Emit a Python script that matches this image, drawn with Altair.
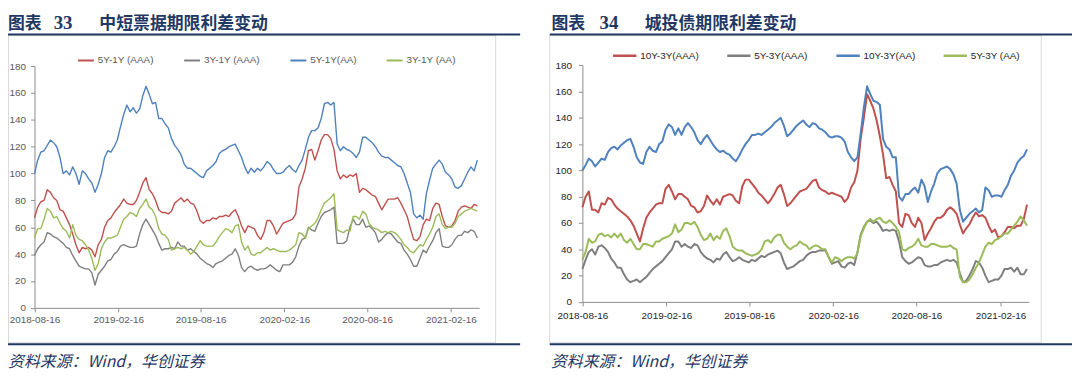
import altair as alt
import pandas as pd

# ---------------- data ----------------
DATES = pd.date_range("2018-08-16", periods=140, freq="7D")

L_NAMES = ["5Y-1Y (AAA)", "3Y-1Y (AAA)", "5Y-1Y(AA)", "3Y-1Y (AA)"]
R_NAMES = ["10Y-3Y(AAA)", "5Y-3Y(AAA)", "10Y-3Y(AA)", "5Y-3Y (AA)"]
COLORS = ["#C0504D", "#7F7F7F", "#4F81BD", "#9BBB59"]

L_RED = [67, 75, 79, 80, 88, 86, 82, 80, 73, 72,
         67, 62, 55, 47, 41, 45, 44, 45, 43, 38,
         47, 51, 60, 65, 67, 71, 74, 77, 81, 78,
         77, 77, 80, 86, 93, 97, 88, 85, 80, 73,
         71, 71, 70, 72, 78, 80, 82, 79, 81, 78,
         77, 72, 65, 63, 65, 65, 67, 66, 68, 68,
         69, 68, 71, 73, 68, 61, 56, 61, 60, 59,
         54, 51, 56, 65, 65, 61, 55, 59, 63, 64,
         65, 66, 70, 90, 96, 104, 117, 118, 110, 117,
         125, 129, 129, 126, 118, 102, 96, 99, 97, 99,
         98, 100, 86, 89, 88, 86, 84, 83, 78, 73,
         77, 81, 81, 81, 82, 78, 73, 68, 59, 51,
         50, 53, 62, 66, 65, 74, 78, 77, 68, 61,
         60, 61, 65, 72, 75, 76, 75, 74, 77, 76]
L_GRAY = [39, 44, 47, 49, 56, 55, 53, 52, 50, 48,
          45, 44, 39, 35, 31, 30, 29, 29, 26, 17,
          25, 28, 31, 35, 36, 40, 42, 46, 47, 46,
          45, 45, 46, 55, 62, 66, 62, 58, 54, 48,
          43, 44, 44, 45, 44, 49, 46, 46, 43, 44,
          42, 40, 37, 35, 33, 32, 30, 33, 34, 35,
          37, 39, 40, 44, 39, 30, 27, 30, 31, 29,
          28, 29, 29, 30, 32, 30, 28, 27, 32, 32,
          32, 34, 38, 46, 51, 52, 60, 58, 57, 63,
          68, 71, 72, 73, 75, 48, 48, 48, 50, 60,
          66, 62, 62, 66, 60, 61, 59, 56, 49, 51,
          54, 56, 55, 52, 49, 48, 43, 40, 36, 31,
          31, 37, 43, 41, 46, 50, 56, 59, 46, 45,
          45, 47, 51, 54, 54, 57, 56, 58, 57, 52]
L_BLUE = [100, 110, 116, 117, 121, 125, 123, 120, 112, 100,
          102, 99, 105, 100, 92, 102, 100, 96, 93, 86,
          92, 100, 112, 117, 116, 120, 125, 135, 144, 151,
          146, 149, 145, 148, 158, 165, 159, 152, 153, 141,
          141, 137, 134, 126, 121, 118, 114, 107, 104, 104,
          102, 100, 98, 97, 102, 104, 106, 109, 115, 117,
          118, 120, 121, 122, 117, 112, 105, 100, 104, 101,
          104, 102, 105, 109, 107, 103, 100, 100, 101, 104,
          106, 103, 101, 106, 110, 118, 127, 132, 132, 134,
          141, 152, 153, 151, 153, 122, 117, 120, 118, 117,
          115, 112, 116, 127, 127, 125, 123, 120, 116, 113,
          112, 112, 110, 108, 106, 105, 100, 93, 86, 70,
          67, 69, 66, 85, 95, 104, 107, 110, 107, 101,
          99, 96, 90, 89, 91, 96, 101, 105, 102, 110]
L_GREEN = [52, 59, 59, 66, 74, 72, 67, 68, 63, 59,
           57, 52, 62, 54, 51, 50, 47, 43, 37, 28,
           33, 44, 49, 52, 52, 53, 54, 60, 66, 68,
           71, 70, 68, 74, 77, 81, 75, 73, 68, 59,
           55, 54, 51, 43, 44, 45, 44, 45, 43, 40,
           42, 46, 50, 47, 46, 46, 46, 49, 53, 56,
           59, 58, 56, 61, 62, 49, 43, 46, 40, 39,
           41, 41, 43, 45, 43, 44, 43, 42, 42, 42,
           43, 45, 47, 56, 55, 52, 59, 61, 63, 67,
           73, 78, 80, 82, 85, 58, 57, 56, 58, 57,
           68, 68, 66, 72, 70, 63, 60, 59, 58, 56,
           57, 56, 57, 56, 54, 51, 47, 45, 42, 41,
           44, 47, 46, 51, 55, 60, 68, 70, 62, 59,
           60, 60, 63, 68, 70, 72, 73, 74, 73, 72]

R_RED = [72, 80, 84, 70, 70, 68, 75, 74, 79, 78,
         74, 71, 69, 67, 65, 62, 58, 52, 46, 56,
         64, 68, 71, 74, 75, 75, 86, 89, 84, 78,
         82, 82, 80, 78, 73, 72, 68, 69, 73, 81,
         77, 74, 78, 74, 80, 81, 82, 81, 77, 75,
         88, 93, 93, 90, 87, 83, 81, 78, 75, 78,
         82, 87, 89, 82, 73, 75, 78, 81, 84, 85,
         86, 89, 92, 93, 87, 85, 84, 82, 83, 82,
         81, 80, 76, 79, 87, 91, 100, 124, 140, 158,
         153, 147, 138, 126, 112, 94, 95, 89, 84, 60,
         57, 67, 66, 60, 57, 64, 60, 47, 52, 56,
         61, 64, 64, 66, 70, 72, 70, 67, 59, 52,
         56, 59, 64, 68, 65, 66, 64, 58, 53, 55,
         49, 50, 53, 57, 57, 56, 58, 58, 63, 74]
R_GRAY = [25, 32, 38, 40, 36, 42, 43, 41, 38, 33,
          30, 26, 26, 21, 17, 15, 16, 17, 15, 17,
          19, 22, 25, 27, 29, 31, 34, 37, 40, 46,
          46, 42, 44, 42, 41, 44, 43, 38, 35, 33,
          32, 30, 33, 32, 36, 38, 34, 31, 32, 34,
          32, 31, 30, 32, 31, 33, 35, 34, 36, 37,
          38, 39, 37, 30, 25, 26, 27, 29, 31, 32,
          35, 37, 38, 38, 39, 39, 39, 34, 29, 30,
          31, 27, 26, 29, 30, 28, 38, 51, 57, 61,
          62, 60, 61, 58, 54, 55, 54, 55, 54, 46,
          34, 31, 29, 30, 32, 34, 33, 28, 27, 27,
          28, 28, 30, 31, 32, 31, 32, 30, 22, 15,
          16, 20, 25, 31, 30, 26, 20, 15, 16, 17,
          17, 20, 25, 25, 26, 23, 26, 21, 21, 25]
R_BLUE = [100, 104, 109, 107, 103, 106, 109, 108, 114, 117,
          118, 116, 119, 121, 123, 124, 118, 110, 106, 105,
          114, 118, 115, 114, 120, 122, 131, 135, 133, 127,
          132, 127, 133, 136, 133, 129, 123, 120, 124, 127,
          123, 119, 116, 114, 115, 113, 112, 109, 107, 111,
          116, 120, 123, 127, 127, 128, 127, 129, 131, 133,
          136, 138, 140, 134, 126, 128, 131, 134, 136, 138,
          135, 133, 136, 135, 132, 131, 129, 126, 125, 126,
          126, 125, 122, 114, 110, 107, 110, 128, 148, 164,
          158, 153, 152, 150, 124, 118, 116, 110, 110, 80,
          77, 82, 82, 85, 87, 83, 93, 88, 76, 84,
          90, 98, 101, 102, 103, 101, 97, 90, 70, 61,
          64, 67, 69, 71, 68, 70, 87, 85, 80, 81,
          81, 80, 85, 89, 96, 100, 106, 109, 111, 116]
R_GREEN = [32, 38, 48, 45, 46, 51, 52, 50, 51, 49,
           52, 49, 52, 47, 45, 48, 44, 40, 40, 44,
           44, 43, 42, 46, 46, 48, 49, 50, 52, 59,
           53, 55, 60, 60, 59, 61, 57, 51, 47, 48,
           52, 47, 50, 48, 54, 56, 50, 42, 40, 39,
           39, 37, 36, 35, 36, 37, 40, 46, 47, 45,
           49, 51, 51, 45, 42, 40, 42, 43, 46, 44,
           43, 40, 42, 43, 42, 40, 40, 34, 30, 34,
           33, 31, 33, 34, 34, 33, 37, 50, 56, 61,
           63, 61, 63, 64, 61, 60, 62, 60, 57, 53,
           40, 39, 41, 42, 44, 48, 43, 42, 42, 44,
           44, 43, 42, 42, 42, 43, 41, 40, 19, 15,
           15, 17, 21, 26, 30, 36, 42, 45, 44, 47,
           48, 50, 52, 52, 55, 58, 61, 65, 62, 58]

Y_TICKS = [0, 20, 40, 60, 80, 100, 120, 140, 160, 180]
X_TICKS = [(2018, 8), (2019, 2), (2019, 8), (2020, 2), (2020, 8), (2021, 2)]

# ---------------- helpers ----------------
W, H = 1072, 370
M = 8  # page margin: chart coords = image coords - 8
NAVY = "#1F3864"
AXIS_GRAY = "#8C8C8C"


def long_df(names, series):
    rows = []
    for name, vals in zip(names, series):
        for d, v in zip(DATES, vals):
            rows.append({"date": d, "value": v, "series": name})
    return pd.DataFrame(rows)


start = alt.DateTime(year=2018, month=8, date=16)
end = alt.DateTime(year=2021, month=4, date=19)
ticks = [alt.DateTime(year=y, month=m, date=16) for y, m in X_TICKS]


def panel(names, series, xr, yr, stroke_w, label_color, legend_x, legend_y,
          sym_size, sym_w, col_pad, label_off, xlab_pad, ylab_pad):
    df = long_df(names, series)
    return alt.Chart(df).mark_line(strokeWidth=stroke_w, strokeJoin="round").encode(
        x=alt.X("date:T",
                scale=alt.Scale(domain=[start, end], range=xr, nice=False),
                axis=alt.Axis(orient="bottom", offset=-(H - yr[0]), values=ticks,
                              format="%Y-%m-%d", title=None, grid=False,
                              labelFont="Liberation Sans", labelFontSize=10,
                              labelColor=label_color, labelOverlap=False,
                              labelFlush=False, labelAngle=0,
                              tickColor=AXIS_GRAY, domainColor=AXIS_GRAY,
                              tickSize=4, labelPadding=xlab_pad)),
        y=alt.Y("value:Q",
                scale=alt.Scale(domain=[0, 180], range=yr, nice=False, zero=False),
                axis=alt.Axis(orient="left", offset=-xr[0], values=Y_TICKS,
                              title=None, grid=False,
                              labelFont="Liberation Sans", labelFontSize=10,
                              labelColor=label_color,
                              tickColor=AXIS_GRAY, domainColor=AXIS_GRAY,
                              tickSize=4, labelPadding=ylab_pad)),
        color=alt.Color("series:N",
                        scale=alt.Scale(domain=names, range=COLORS),
                        sort=names,
                        legend=alt.Legend(orient="none", legendX=legend_x, legendY=legend_y,
                                          direction="horizontal", title=None,
                                          symbolType="stroke", symbolSize=sym_size,
                                          symbolStrokeWidth=sym_w,
                                          labelFont="Liberation Sans", labelFontSize=10,
                                          labelColor=label_color, labelOffset=label_off,
                                          columnPadding=col_pad, padding=0)),
    )


one = pd.DataFrame({"k": [0]})


def text(txt, x, y, size, weight="normal", style="normal",
         font="Noto Sans CJK SC", color=NAVY, baseline="middle"):
    return alt.Chart(pd.DataFrame({"t": [txt]})).mark_text(
        align="left", baseline=baseline, font=font, fontSize=size,
        fontWeight=weight, fontStyle=style, color=color
    ).encode(x=alt.value(x), y=alt.value(y), text="t:N")


def hrule(x1, x2, y, color=NAVY, w=2):
    return alt.Chart(one).mark_rule(color=color, strokeWidth=w).encode(
        x=alt.value(x1), x2=alt.value(x2), y=alt.value(y))


def frame(x1, x2, y1, y2):
    return alt.Chart(one).mark_rect(filled=False, stroke="#D9D9D9", strokeWidth=1).encode(
        x=alt.value(x1), x2=alt.value(x2), y=alt.value(y1), y2=alt.value(y2))


# ---------------- panels ----------------
left = panel(L_NAMES, [L_RED, L_GRAY, L_BLUE, L_GREEN],
             xr=[34.7 - M, 482.7 - M], yr=[308.7 - M, 65.2 - M],
             stroke_w=1.4, label_color="#595959",
             legend_x=77.5 - M, legend_y=58.5 - M - 8,
             sym_size=256, sym_w=2, col_pad=26, label_off=3,
             xlab_pad=3, ylab_pad=5)

right = panel(R_NAMES, [R_RED, R_GRAY, R_BLUE, R_GREEN],
              xr=[586.7 - M, 1036.5 - M], yr=[302.7 - M, 64.3 - M],
              stroke_w=2, label_color="#262626",
              legend_x=616.4 - M, legend_y=53.4 - M - 11.7,
              sym_size=552, sym_w=2.5, col_pad=23, label_off=2.5,
              xlab_pad=5, ylab_pad=7)

decor = [
    frame(0.5, 499.3 - M, 34.5 - M, 343.8 - M),
    frame(553.8 - M, 1049 - M, 34.5 - M, 343.8 - M),
    hrule(0, 524 - M, 33.2 - M),
    hrule(0, 524 - M, 345.5 - M),
    hrule(553.8 - M, W, 33.2 - M),
    hrule(553.8 - M, W, 345.5 - M),
]

TY = 19.5  # alphabetic baseline of the headings
titles = [
    text("图表", 0, TY, 17, weight="bold", baseline="alphabetic"),
    text("33", 46, TY, 19, weight="bold", font="Liberation Serif", baseline="alphabetic"),
    text("中短票据期限利差变动", 100 - M, TY, 17, weight="bold", baseline="alphabetic"),
    text("图表", 555.5 - M, TY, 17, weight="bold", baseline="alphabetic"),
    text("34", 604 - M, TY, 19, weight="bold", font="Liberation Serif", baseline="alphabetic"),
    text("城投债期限利差变动", 649.5 - M, TY, 17, weight="bold", baseline="alphabetic"),
    text("资料来源：Wind，华创证券", 0, 363.4 - M, 16, style="italic"),
    text("资料来源：Wind，华创证券", 555 - M, 363.4 - M, 16, style="italic"),
]

chart = alt.layer(*decor, left, right, *titles).resolve_scale(
    x="independent", y="independent", color="independent"
).properties(
    width=W, height=H,
    autosize=alt.AutoSizeParams(type="none"),
    padding=0,
).configure_view(stroke=None)

chart.save("out.html", embed_options={"renderer": "svg", "actions": False})
